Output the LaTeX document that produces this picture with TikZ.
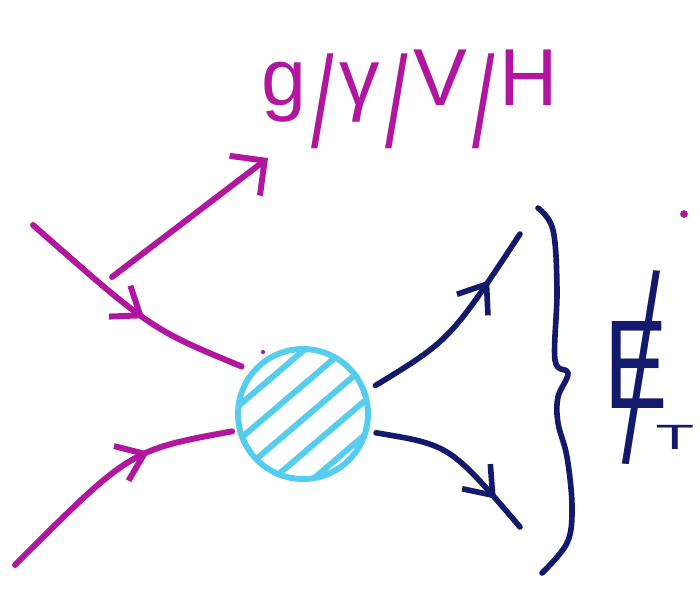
\documentclass[tikz,border=0pt]{standalone}
\usepackage{fontspec}
\setmainfont{Liberation Sans}
\usetikzlibrary{arrows.meta,calc,decorations.markings}
\definecolor{fdMagenta}{HTML}{B0169E}
\definecolor{fdCyan}{HTML}{56CDEF}
\definecolor{fdNavy}{HTML}{141A6B}
\newcommand\tallslash{\hspace{3pt}\raisebox{-24pt}{\scalebox{1}[1.6]{/}}\hspace{3pt}}

\begin{document}
\begin{tikzpicture}[x=0.02cm, y=-0.02cm, line cap=round, line join=round,
  magleg/.style={draw=fdMagenta, line width=3.4pt},
  navyleg/.style={draw=fdNavy, line width=3.2pt},
  midtip/.style={postaction={decorate, decoration={markings,
    mark=at position #1 with {\arrow{Straight Barb[length=0.5cm,width=0.75cm]}}}}}]
  \useasboundingbox[fill=white] (0,0) rectangle (700,596);

  % the blob
  \node[circle, draw=fdCyan, line width=3.4pt, minimum size=2.6cm, inner sep=0pt,
    path picture={\foreach \d in {-48,-22,4,30,56}
      \draw[fdCyan, line width=3.4pt] ($(path picture bounding box.center)+(0.648*\d-61,0.762*\d+52)$) -- ++(122,-104);}]
    (blob) at (303,414) {};

  \coordinate (inTop) at (33,225);
  \coordinate (inBot) at (15,565);
  \coordinate (outTop) at (520,234);
  \coordinate (outBot) at (520,527);
  \coordinate (emit) at (112,277);
  \coordinate (boson) at (268,158);

  % incoming legs and emission
  \draw[magleg, midtip=0.55, shorten >=0.2cm] (inTop) .. controls (151,329) .. (blob.140);
  \draw[magleg, midtip=0.66, shorten >=0.1cm] (inBot) .. controls (130,450) .. (blob.194);
  \draw[magleg, -{Straight Barb[length=0.5cm,width=1cm]}] (emit) -- (boson);
  \node[anchor=base, text=fdMagenta, font=\fontsize{46}{46}\selectfont] (bosons) at (410,105)
    {g\tallslash γ\tallslash V\tallslash H};
  \fill[fdMagenta] (263,352) circle (1.2pt);
  \fill[fdMagenta] (684,214) circle (2.2pt);

  % outgoing legs
  \draw[navyleg, midtip=0.75, shorten <=0.2cm] (blob.20) .. controls (450,340) .. (outTop);
  \draw[navyleg, midtip=0.8, shorten <=0.15cm] (blob.-15) .. controls (450,445) .. (outBot);

  % brace and missing energy
  \draw[navyleg] plot[smooth, tension=0.6] coordinates {(538,208) (553,230) (557,290) (555,360)
    (568,373) (558,397) (558,423) (567,457) (572,507) (567,543) (542,573)};
  \node[anchor=base west, text=fdNavy, inner sep=0pt, font=\fontsize{72}{72}\selectfont] (missET) at (604,408)
    {\makebox[0pt][l]{\scalebox{0.75}[1]{E}}\hspace{10pt}\raisebox{-31pt}{\rotatebox[origin=c]{-4}{\scalebox{0.7}[2.1]{/}}}%
     \hspace{-2.5pt}\raisebox{-23.6pt}{\fontsize{20}{20}\selectfont\scalebox{1.8}[1]{T}}};
\end{tikzpicture}
\end{document}
